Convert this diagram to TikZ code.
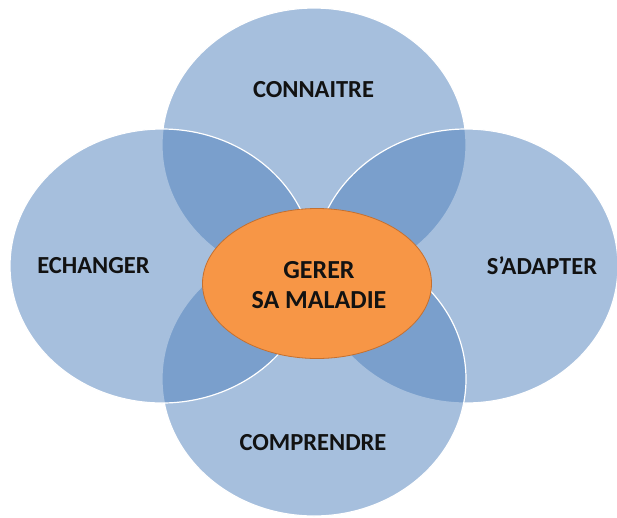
\documentclass[tikz,border=0pt]{standalone}
\usepackage{fontspec}
\setmainfont{Carlito}
\usetikzlibrary{shapes.geometric}
\definecolor{petal}{RGB}{79,129,189}
\definecolor{coreorange}{RGB}{247,150,70}
\definecolor{coreline}{RGB}{196,112,48}
\definecolor{ink}{RGB}{18,18,18}
\tikzset{
  petal/.style={ellipse, minimum width=304pt, minimum height=274pt, inner sep=0pt,
    fill=petal, fill opacity=0.5, draw=white, draw opacity=1, line width=1.2pt},
  core/.style={ellipse, minimum width=229pt, minimum height=150pt, inner sep=0pt,
    fill=coreorange, draw=coreline, line width=0.8pt},
  lbl/.style={font=\bfseries\fontsize{24.5}{29}\selectfont, text=ink, inner sep=0pt},
  corelbl/.style={font=\bfseries\fontsize{26}{30}\selectfont, text=ink, inner sep=0pt, align=center}
}
\begin{document}
\begin{tikzpicture}[x=1pt,y=-1pt]
\useasboundingbox (0,0) rectangle (617,517);
\fill[white] (0,0) rectangle (617,517);
\node[petal] (top) at (314,145) {};
\node[petal] (right) at (466,266) {};
\node[petal] (bottom) at (314,379) {};
\node[petal] (left) at (162,266) {};
\node[core] (core) at (317,283.5) {};
\node[lbl] (ltop) at (313.5,89.5) {CONNAITRE};
\node[lbl] (lbottom) at (313,442.5) {COMPRENDRE};
\node[lbl] (lleft) at (93.5,265.5) {ECHANGER};
\node[lbl] (lright) at (542,265.5) {S’ADAPTER};
\node[corelbl] (lcore) at (319,285) {GERER\\SA MALADIE};
\end{tikzpicture}
\end{document}
